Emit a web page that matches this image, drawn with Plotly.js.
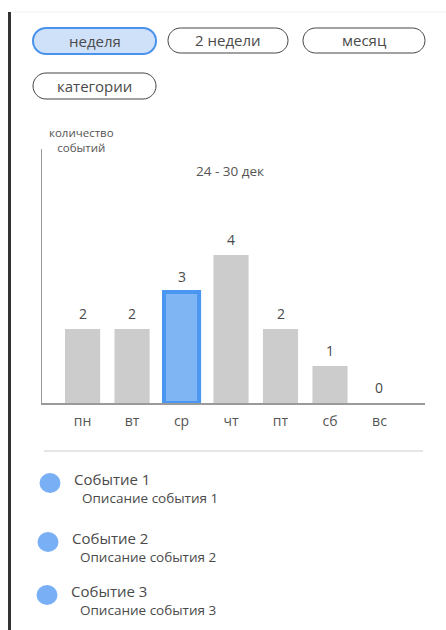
<!DOCTYPE html>
<html>
<head>
<meta charset="utf-8">
<script src="https://cdn.plot.ly/plotly-3.0.1.min.js"></script>
<style>
  html, body { margin: 0; padding: 0; background: #ffffff; }
  #chart { width: 446px; height: 630px; }
</style>
</head>
<body>
<div id="chart"></div>
<script>
// ---- data ----
const days = ['пн', 'вт', 'ср', 'чт', 'пт', 'сб', 'вс'];
const counts = [2, 2, 3, 4, 2, 1, 0];
const selectedDay = 'ср';
const periodButtons = ['неделя', '2 недели', 'месяц', 'категории'];
const activeButton = 'неделя';
const rangeLabel = '24 - 30 дек';
const yAxisTitleLines = ['количество', 'событий'];
const eventTitles = ['Событие 1', 'Событие 2', 'Событие 3'];
const eventDescriptions = ['Описание события 1', 'Описание события 2', 'Описание события 3'];

// ---- layout helpers (pixel -> paper) ----
const W = 446, H = 630;
const px = v => v / W;
const py = v => 1 - v / H;
const FONT = '"Open Sans", "Noto Sans", sans-serif';
const TXT = '#4a4a4a';

function pill(x0, y0, x1, y1) {
  const r = (y1 - y0) / 2;
  const k = 0.5523 * r;
  const p = (x, y) => px(x) + ',' + py(y);
  return 'M' + p(x0 + r, y0) +
    ' L' + p(x1 - r, y0) +
    ' C' + p(x1 - r + k, y0) + ' ' + p(x1, y0 + r - k) + ' ' + p(x1, y0 + r) +
    ' C' + p(x1, y0 + r + k) + ' ' + p(x1 - r + k, y1) + ' ' + p(x1 - r, y1) +
    ' L' + p(x0 + r, y1) +
    ' C' + p(x0 + r - k, y1) + ' ' + p(x0, y0 + r + k) + ' ' + p(x0, y0 + r) +
    ' C' + p(x0, y0 + r - k) + ' ' + p(x0 + r - k, y0) + ' ' + p(x0 + r, y0) + ' Z';
}

// button boxes (pixels)
const buttonBoxes = [
  [33, 28, 156, 54],
  [168, 28, 288, 53],
  [303, 28, 425, 53],
  [33, 73, 156, 99]
];
// event rows (pixels)
const eventRows = [
  {cx: 50, cy: 483, tx: 72, ty: 479, dx: 80, dy: 498},
  {cx: 48, cy: 542, tx: 70, ty: 538, dx: 78, dy: 557},
  {cx: 47, cy: 595, tx: 69, ty: 591, dx: 78, dy: 610}
];

const shapes = [];
const annotations = [];

// frame lines
shapes.push({type: 'line', xref: 'paper', yref: 'paper', x0: px(9.5), x1: px(9.5), y0: py(12), y1: py(630),
  line: {color: '#333333', width: 3}});
shapes.push({type: 'line', xref: 'paper', yref: 'paper', x0: px(12), x1: px(446), y0: py(12), y1: py(12),
  line: {color: '#f0f0f0', width: 1}});

// buttons
periodButtons.forEach((label, i) => {
  const b = buttonBoxes[i];
  const active = label === activeButton;
  shapes.push({
    type: 'path', xref: 'paper', yref: 'paper', path: pill(b[0], b[1], b[2], b[3]),
    fillcolor: active ? '#cfe1f8' : '#ffffff',
    line: {color: active ? '#4a93ec' : '#444444', width: active ? 2 : 1}
  });
  annotations.push({
    xref: 'paper', yref: 'paper', x: px((b[0] + b[2]) / 2), y: py((b[1] + b[3]) / 2),
    text: label, showarrow: false, xanchor: 'center', yanchor: 'middle',
    font: {family: FONT, size: 15, color: TXT}
  });
});

// axis title and period label
annotations.push({
  xref: 'paper', yref: 'paper', x: px(81), y: py(140), text: yAxisTitleLines.join('<br>'), showarrow: false,
  xanchor: 'center', yanchor: 'middle', align: 'center',
  font: {family: FONT, size: 11.5, color: '#555555'}
});
annotations.push({
  xref: 'paper', yref: 'paper', x: px(230), y: py(171), text: rangeLabel, showarrow: false,
  xanchor: 'center', yanchor: 'middle',
  font: {family: FONT, size: 13.5, color: '#555555'}
});

// value labels above bars
days.forEach((d, i) => {
  annotations.push({
    xref: 'x', yref: 'y', x: d, y: counts[i], text: String(counts[i]), showarrow: false,
    xanchor: 'center', yanchor: 'bottom', yshift: 4,
    font: {family: FONT, size: 14, color: TXT}
  });
});

// separator
shapes.push({type: 'line', xref: 'paper', yref: 'paper', x0: px(44), x1: px(423), y0: py(451), y1: py(451),
  line: {color: '#cccccc', width: 1}});

// event list
eventTitles.forEach((t, i) => {
  const r = eventRows[i];
  shapes.push({type: 'circle', xref: 'paper', yref: 'paper',
    x0: px(r.cx - 10.5), x1: px(r.cx + 10.5), y0: py(r.cy + 10), y1: py(r.cy - 10),
    fillcolor: '#79aff5', line: {width: 0}});
  annotations.push({xref: 'paper', yref: 'paper', x: px(r.tx), y: py(r.ty), text: t, showarrow: false,
    xanchor: 'left', yanchor: 'middle', font: {family: FONT, size: 15, color: TXT}});
  annotations.push({xref: 'paper', yref: 'paper', x: px(r.dx), y: py(r.dy), text: eventDescriptions[i], showarrow: false,
    xanchor: 'left', yanchor: 'middle', font: {family: FONT, size: 13.5, color: TXT}});
});

const barColors = days.map(d => d === selectedDay ? '#80b5f3' : '#cccccc');
const barLineColors = days.map(d => d === selectedDay ? '#4a96f0' : '#cccccc');
const barLineWidths = days.map(d => d === selectedDay ? 4 : 0);

const trace = {
  type: 'bar', x: days, y: counts,
  marker: {color: barColors, line: {color: barLineColors, width: barLineWidths}},
  hoverinfo: 'x+y'
};

const layout = {
  width: W, height: H,
  margin: {l: 0, r: 0, t: 0, b: 0},
  paper_bgcolor: '#ffffff', plot_bgcolor: '#ffffff',
  showlegend: false,
  bargap: 0.29,
  xaxis: {
    type: 'category', domain: [px(42), px(425)], range: [-0.82, 6.92],
    showline: true, linecolor: '#9a9a9a', linewidth: 1.5,
    showgrid: false, zeroline: false, ticks: '', fixedrange: true,
    ticklabelstandoff: 5,
    tickfont: {family: FONT, size: 14, color: '#555555'}
  },
  yaxis: {
    domain: [py(403), py(149)], range: [0, 6.86],
    showline: true, linecolor: '#9a9a9a', linewidth: 1.5,
    showgrid: false, zeroline: false, showticklabels: false, ticks: '', fixedrange: true
  },
  shapes: shapes,
  annotations: annotations,
  font: {family: FONT}
};

Plotly.newPlot('chart', [trace], layout, {displayModeBar: false, staticPlot: true});
</script>
</body>
</html>
